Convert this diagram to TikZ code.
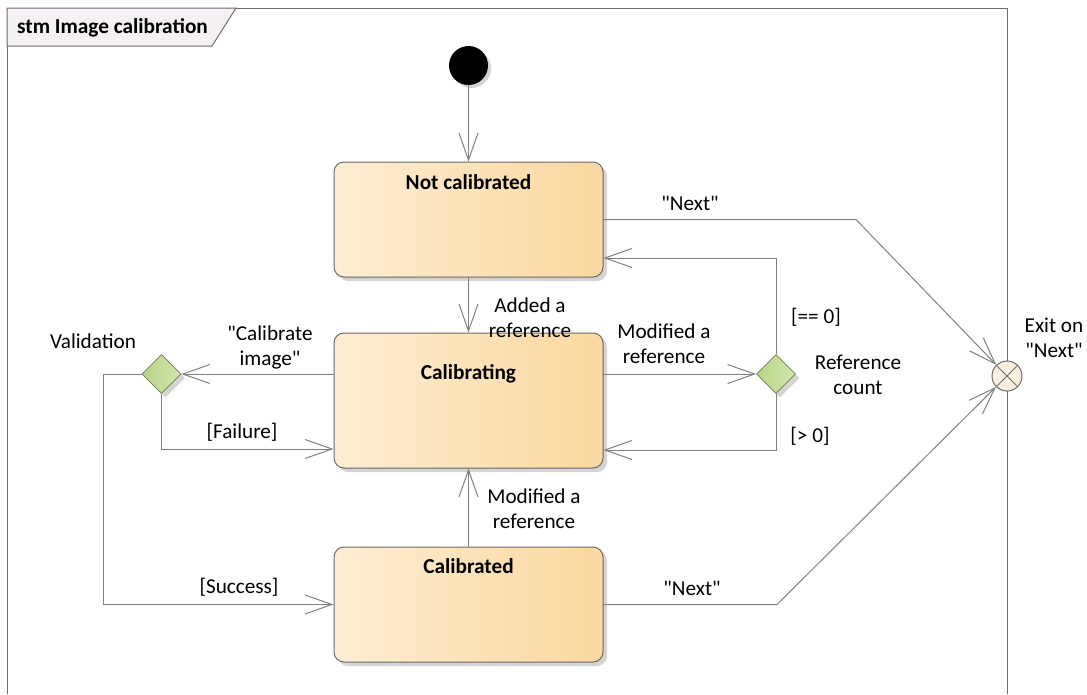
\documentclass[tikz,border=0pt]{standalone}
\usepackage{fontspec}
\newfontfamily\carl{Carlito}
\usetikzlibrary{arrows.meta,shapes.geometric,shadows}

\definecolor{linec}{RGB}{128,128,128}
\definecolor{framec}{RGB}{110,110,110}
\definecolor{boxborder}{RGB}{105,105,105}
\definecolor{stateL}{RGB}{254,237,212}
\definecolor{stateR}{RGB}{250,216,158}
\definecolor{diaL}{RGB}{184,214,134}
\definecolor{diaR}{RGB}{208,229,172}
\definecolor{diaborder}{RGB}{110,125,85}
\definecolor{tabc}{RGB}{244,240,244}
\definecolor{exitfill}{RGB}{250,238,222}
\definecolor{shadowc}{RGB}{212,212,212}

\tikzset{
  softshadow/.style={drop shadow={shadow xshift=4pt,shadow yshift=-4pt,fill=shadowc,opacity=1}},
  statebox/.style={draw=boxborder, line width=1pt, rounded corners=10pt,
    left color=stateL, right color=stateR, softshadow,
    minimum width=269pt, inner sep=0pt},
  decision/.style={diamond, draw=diaborder, line width=0.8pt, left color=diaL, right color=diaR,
    minimum width=39pt, minimum height=39pt, inner sep=0pt, aspect=1,
    drop shadow={shadow xshift=4pt,shadow yshift=-4pt,fill=shadowc,opacity=1}},
  statetitle/.style={font=\carl\fontsize{21.3}{25}\selectfont\bfseries, inner sep=0pt},
  lbl/.style={align=center, inner sep=0pt, font=\carl\fontsize{21.2}{25}\selectfont},
  conn/.style={draw=linec, line width=1pt},
  arr/.style={conn, -{Straight Barb[length=27pt,width=19pt,line width=1pt]}},
}

\begin{document}
\begin{tikzpicture}[x=1pt,y=-1pt]
\useasboundingbox (0,0) rectangle (1087,694);

% diagram frame and its name tab
\draw[framec, line width=1pt] (7,694) -- (7,8) -- (1007,8) -- (1007,694);
\filldraw[fill=tabc, draw=framec, line width=1pt] (7,8) -- (236,8) -- (212,46) -- (7,46) -- cycle;
\node[statetitle, anchor=west] (frametitle) at (17,28) {stm Image calibration};

% initial pseudo-state
\node[circle, fill=black, minimum size=39pt, inner sep=0pt,
      drop shadow={shadow xshift=3pt,shadow yshift=-3pt,fill=shadowc,opacity=1}] (init) at (468.5,65.5) {};

% states
\node[statebox, minimum height=115pt] (nc) at (468.5,219.5) {};
\node[statetitle] (nct) at (468.5,182) {Not calibrated};
\node[statebox, minimum height=135pt] (cg) at (468.5,400.5) {};
\node[statetitle] (cgt) at (468.5,374) {Calibrating};
\node[statebox, minimum height=115pt] (cd) at (468.5,604.5) {};
\node[statetitle] (cdt) at (468.5,566) {Calibrated};

% choice points
\node[decision] (vd) at (161.5,374) {};
\node[decision] (rd) at (776,374) {};

% exit point
\node[circle, draw=framec, fill=exitfill, line width=1pt, minimum size=30pt, inner sep=0pt] (ex) at (1007,376) {};
\draw[framec, line width=0.8pt] (ex.north west) -- (ex.south east);
\draw[framec, line width=0.8pt] (ex.north east) -- (ex.south west);

% bend points
\coordinate (nxA) at (856,219.5);
\coordinate (nxB) at (777,604.5);
\coordinate (eqZ) at (776,258);
\coordinate (gtZ) at (776,450);
\coordinate (fail) at (161.5,449);
\coordinate (succ) at (103,374);

% transitions
\draw[arr] (init) -- (nc);
\draw[arr] (nc) -- (cg);
\draw[arr] (cd) -- (cg);
\draw[arr] (cg.east |- rd) -- (rd.west);
\draw[arr] (rd.north) -- (eqZ) -- (nc.east |- eqZ);
\draw[arr] (rd.south) -- (gtZ) -- (cg.east |- gtZ);
\draw[arr] (cg.west |- vd) -- (vd.east);
\draw[arr] (vd.south) -- (fail) -- (cg.west |- fail);
\draw[arr] (vd.west) -- (succ) |- (cd.west);
\draw[arr] (nc.east) -- (nxA) -- (ex);
\draw[arr] (cd.east) -- (nxB) -- (ex);

% labels
\node[lbl] (l1) at (530,318) {Added a\\reference};
\node[lbl] (l2) at (664,344) {Modified a\\reference};
\node[lbl] (l3) at (816,317) {[== 0]};
\node[lbl] (l4) at (810,436) {[> 0]};
\node[lbl] (l5) at (858,375) {Reference\\count};
\node[lbl] (l6) at (270,347) {"Calibrate\\image"};
\node[lbl] (l7) at (93,341) {Validation};
\node[lbl] (l8) at (242,432) {[Failure]};
\node[lbl] (l9) at (239,587) {[Success]};
\node[lbl] (l10) at (534,509) {Modified a\\reference};
\node[lbl] (l11) at (690,203) {"Next"};
\node[lbl] (l12) at (692,588) {"Next"};
\node[lbl] (l13) at (1054,338) {Exit on\\"Next"};
\end{tikzpicture}
\end{document}
